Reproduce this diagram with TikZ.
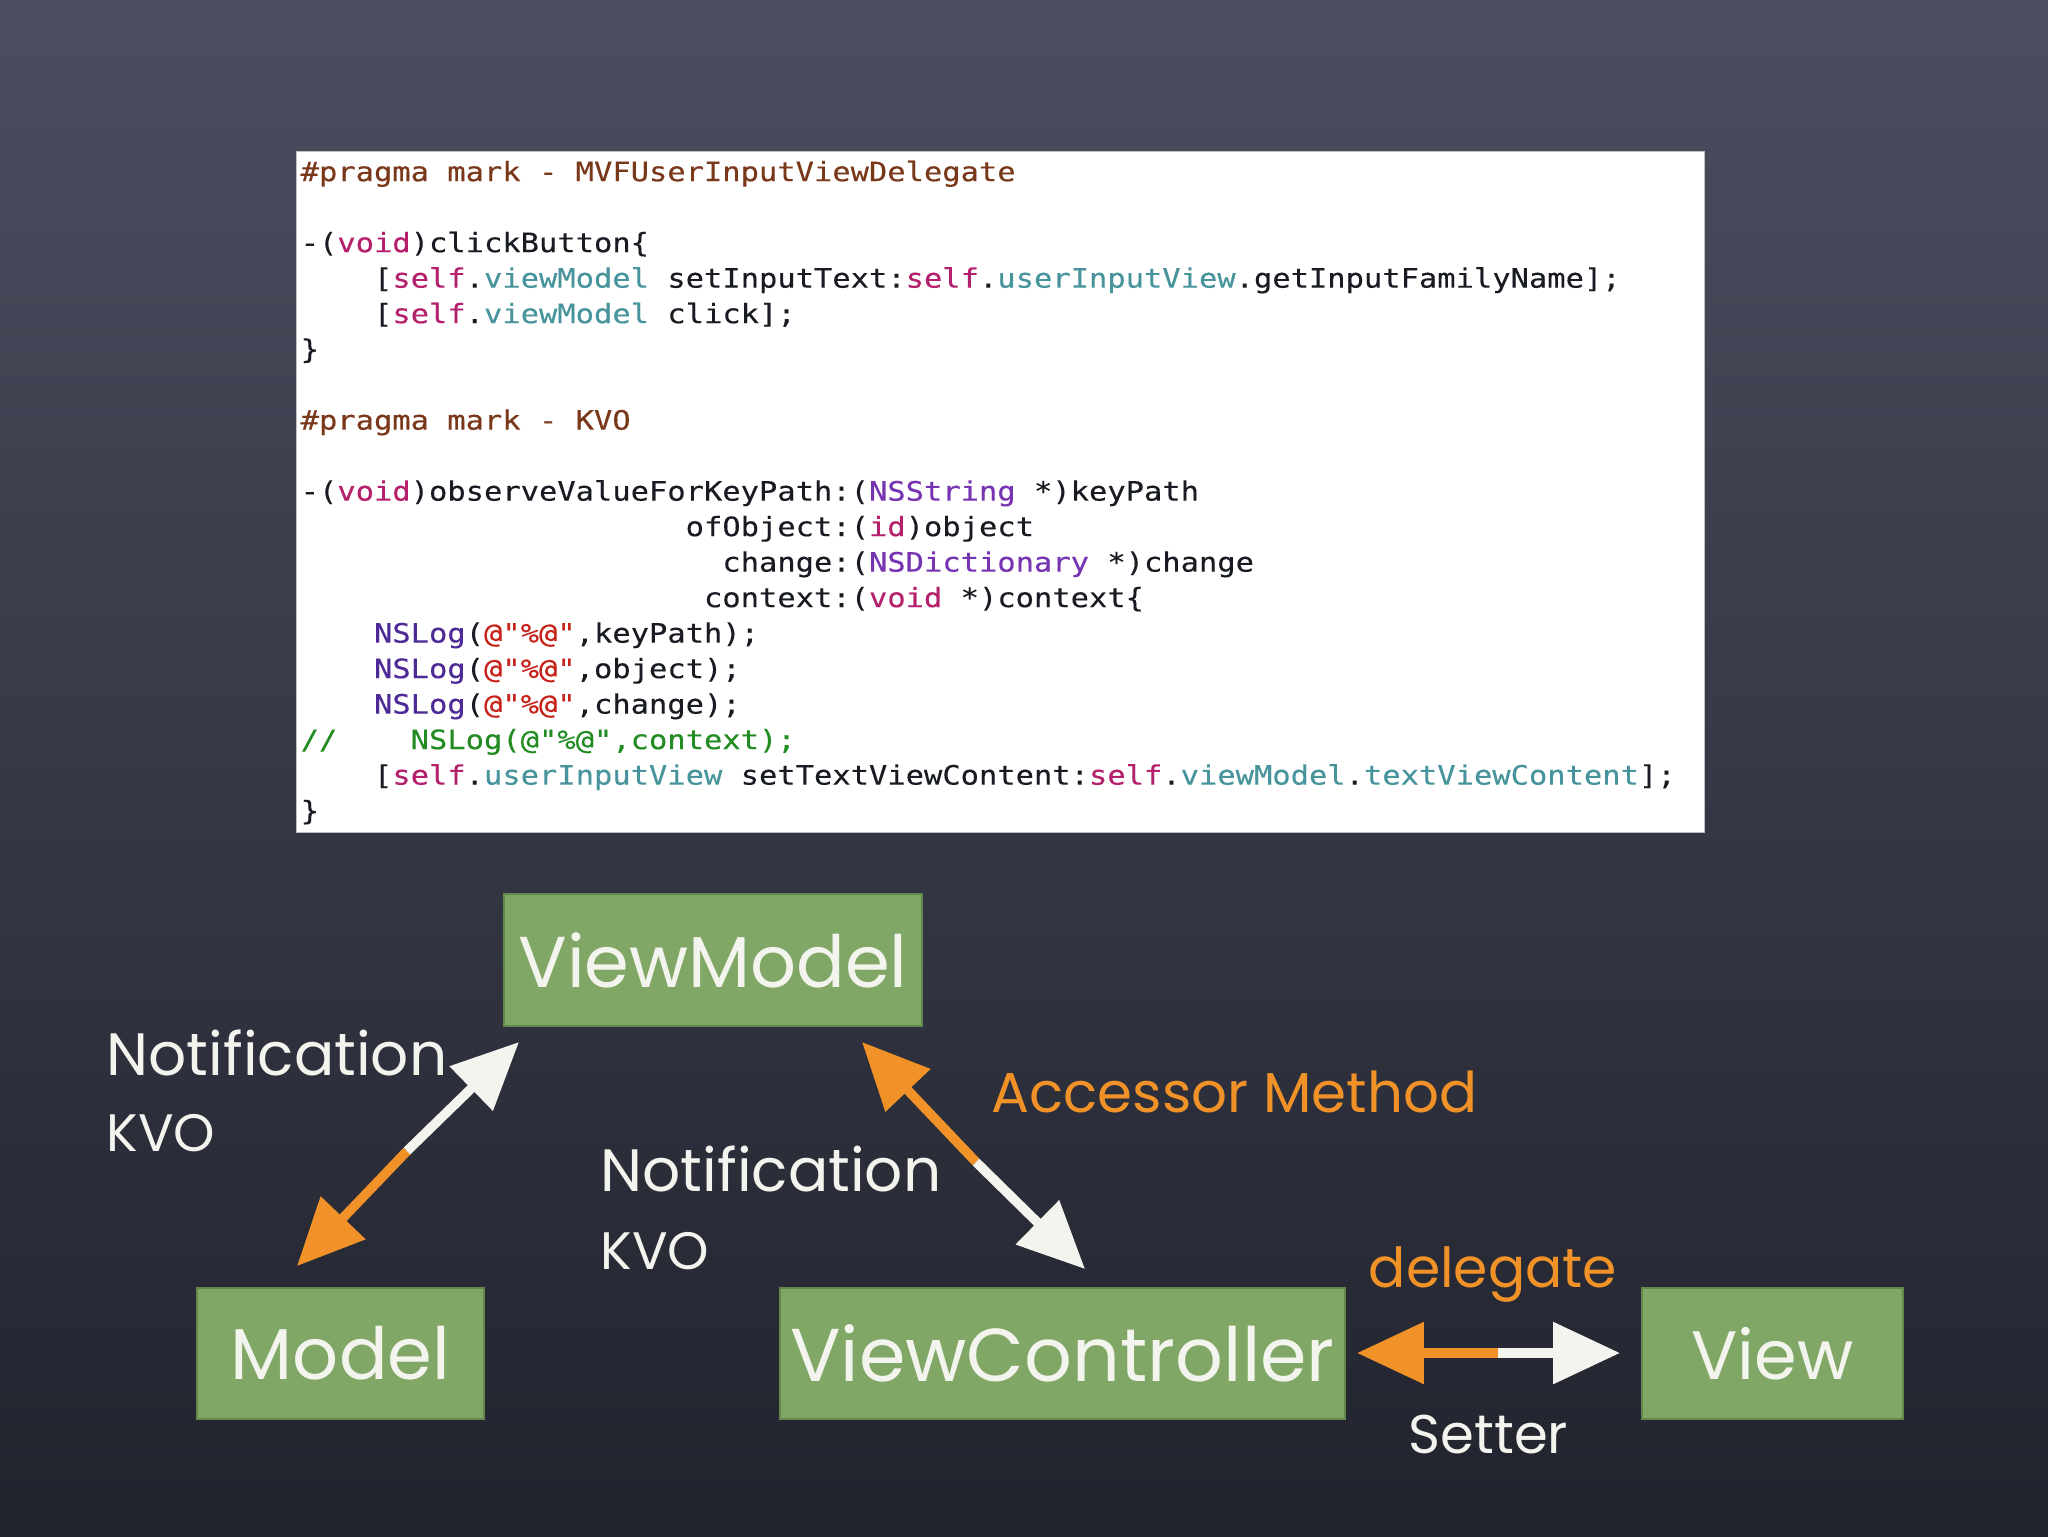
\documentclass[tikz,border=0pt]{standalone}
\usepackage{fontspec}
\usetikzlibrary{arrows.meta}
\newfontfamily\codefont[FakeStretch=1.14,FakeBold=0.25]{DejaVu Sans Mono}
\newfontfamily\chalkfont{Poppins}
\definecolor{bgtop}{RGB}{74,78,95}
\definecolor{bgmid}{RGB}{50,53,65}
\definecolor{bgbot}{RGB}{33,35,45}
\definecolor{boxgreen}{RGB}{128,167,101}
\definecolor{boxedge}{RGB}{100,135,78}
\definecolor{chorange}{RGB}{240,146,40}
\definecolor{chwhite}{RGB}{244,244,238}
\definecolor{kw}{RGB}{180,32,108}
\definecolor{prop}{RGB}{72,148,156}
\definecolor{cls}{RGB}{118,52,178}
\definecolor{fn}{RGB}{78,42,150}
\definecolor{str}{RGB}{198,34,26}
\definecolor{cmt}{RGB}{34,140,34}
\definecolor{pp}{RGB}{122,56,26}
\definecolor{plain}{RGB}{24,28,34}
\newcommand{\kw}[1]{\textcolor{kw}{#1}}
\newcommand{\pr}[1]{\textcolor{prop}{#1}}
\newcommand{\cl}[1]{\textcolor{cls}{#1}}
\newcommand{\fnc}[1]{\textcolor{fn}{#1}}
\newcommand{\st}[1]{\textcolor{str}{#1}}
\tikzset{
  mvbox/.style={fill=boxgreen, draw=boxedge, line width=0.6pt, inner sep=0pt,
    text=chwhite, font=\chalkfont\fontsize{20.5}{24}\selectfont},
  chalklabel/.style={anchor=base west, inner sep=0pt, font=\chalkfont\fontsize{17}{20}\selectfont},
  chalkarrow/.style={line width=2.7pt, -{Triangle[length=19pt,width=17pt]}},
}
\begin{document}
\begin{tikzpicture}[x=0.1mm, y=-0.1mm]
\useasboundingbox (0,0) rectangle (2048,1536);
\shade[top color=bgtop, middle color=bgmid, bottom color=bgbot] (0,0) rectangle (2048,1536);

% code panel
\node[fill=white, draw=gray!50, line width=0.4pt, minimum width=1408*0.1mm, minimum height=681*0.1mm, anchor=north west, inner sep=0pt] (panel) at (296,151) {};
\node[anchor=north west, inner sep=0pt, align=left, text=plain,
  font=\codefont\fontsize{7.6}{10.1}\selectfont] (code) at (300,160) {%
\textcolor{pp}{\#pragma mark - MVFUserInputViewDelegate}\\
~\\
-(\kw{void})clickButton\{\\
~~~~[\kw{self}.\pr{viewModel} setInputText:\kw{self}.\pr{userInputView}.getInputFamilyName];\\
~~~~[\kw{self}.\pr{viewModel} click];\\
\}\\
~\\
\textcolor{pp}{\#pragma mark - KVO}\\
~\\
-(\kw{void})observeValueForKeyPath:(\cl{NSString} *)keyPath\\
~~~~~~~~~~~~~~~~~~~~~ofObject:(\kw{id})object\\
~~~~~~~~~~~~~~~~~~~~~~~change:(\cl{NSDictionary} *)change\\
~~~~~~~~~~~~~~~~~~~~~~context:(\kw{void} *)context\{\\
~~~~\fnc{NSLog}(\st{@"\%@"},keyPath);\\
~~~~\fnc{NSLog}(\st{@"\%@"},object);\\
~~~~\fnc{NSLog}(\st{@"\%@"},change);\\
\textcolor{cmt}{//~~~~NSLog(@"\%@",context);}\\
~~~~[\kw{self}.\pr{userInputView} setTextViewContent:\kw{self}.\pr{viewModel}.\pr{textViewContent}];\\
\}};

% boxes
\node[mvbox, minimum width=418*0.1mm, minimum height=132*0.1mm] (vm) at (713,960) {ViewModel};
\node[mvbox, minimum width=287*0.1mm, minimum height=131*0.1mm] (model) at (340.5,1353.5) {Model};
\node[mvbox, minimum width=565*0.1mm, minimum height=131*0.1mm, font=\chalkfont\fontsize{21.3}{24}\selectfont] (vc) at (1062.5,1353.5) {ViewController};
\node[mvbox, minimum width=261*0.1mm, minimum height=131*0.1mm, font=\chalkfont\fontsize{19.5}{24}\selectfont] (view) at (1772.5,1353.5) {View};

% arrow anchor points
\coordinate (a1o) at (297,1266);
\coordinate (a1m) at (407,1151);
\coordinate (a1w) at (519,1042);
\coordinate (a2o) at (862,1042);
\coordinate (a2m) at (976,1162);
\coordinate (a2w) at (1085,1269);
\coordinate (a3o) at (1357,1353);
\coordinate (a3m) at (1498,1353);
\coordinate (a3w) at (1620,1353);

\draw[chalkarrow, chorange] (a1m) -- (a1o);
\draw[chalkarrow, chwhite] (a1m) -- (a1w);
\draw[chalkarrow, chorange] (a2m) -- (a2o);
\draw[chalkarrow, chwhite] (a2m) -- (a2w);
\draw[chalkarrow, chorange] (a3m) -- (a3o);
\draw[chalkarrow, chwhite] (a3m) -- (a3w);

% labels
\node[chalklabel, text=chwhite] (n1) at (106,1075) {Notification};
\node[chalklabel, text=chwhite, font=\chalkfont\fontsize{15}{20}\selectfont] (k1) at (106,1151) {KVO};
\node[chalklabel, text=chwhite] (n2) at (600,1191) {Notification};
\node[chalklabel, text=chwhite, font=\chalkfont\fontsize{15}{20}\selectfont] (k2) at (600,1269) {KVO};
\node[chalklabel, text=chorange, font=\chalkfont\fontsize{16}{19}\selectfont] (acc) at (991,1112) {Accessor Method};
\node[chalklabel, text=chorange, font=\chalkfont\fontsize{15.7}{19}\selectfont] (del) at (1368,1287) {delegate};
\node[chalklabel, text=chwhite, font=\chalkfont\fontsize{15.5}{19}\selectfont] (set) at (1408,1453) {Setter};
\end{tikzpicture}
\end{document}
